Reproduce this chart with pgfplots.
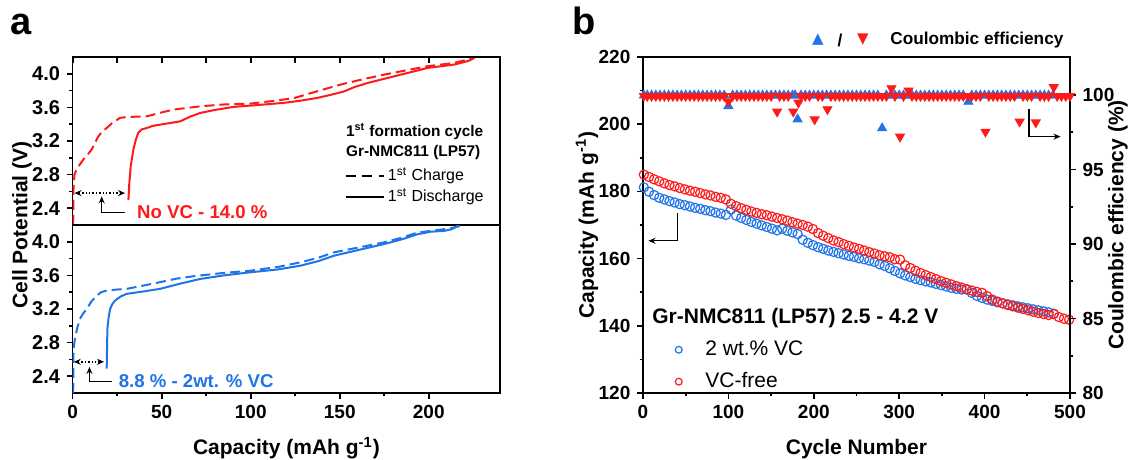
\documentclass[border=0pt]{standalone}
\usepackage{fontspec}
\setmainfont{Liberation Sans}
\newfontfamily\dejavu{DejaVu Sans}
\usepackage{pgfplots}
\pgfplotsset{compat=1.18}
\usetikzlibrary{arrows.meta}
\definecolor{cred}{HTML}{FF1A1A}
\definecolor{cblue}{HTML}{1E74E8}
\newcommand{\lab}{\bfseries\fontsize{10.5}{12}\selectfont}
\pgfplotsset{
  base/.style={scale only axis, axis line style={line width=0.8pt},
    every tick/.style={black,line width=0.8pt},
    major tick length=2.8pt, minor tick length=1.6pt, tick align=outside,
    tick label style={font=\bfseries\fontsize{9.5}{11}\selectfont},
    /pgf/number format/assume math mode=true},
  vfmt/.style={yticklabel style={font=\bfseries\fontsize{10}{11}\selectfont,
    /pgf/number format/.cd,fixed,fixed zerofill,precision=1}},
}
\tikzset{
  tip/.style={line width=0.7pt},
  arr/.style={{Stealth[length=3.5pt,width=3pt]}-{Stealth[length=3.5pt,width=3pt]}},
}
\begin{document}
\begin{tikzpicture}
\path[use as bounding box] (0,0) rectangle (566pt,230pt);

% ---- a, top: no VC
\begin{axis}[base, vfmt, at={(36.35pt,117.5pt)}, anchor=south west,
  width=213.65pt, height=84pt, xmin=0, xmax=240, ymin=2.2, ymax=4.2,
  xtick=\empty, ytick={2.4,2.8,...,4.0}, minor y tick num=1, ytick pos=left]
\addplot[cred, line width=1pt, dash pattern=on 5pt off 2.5pt] coordinates {
 (0.3,2.20) (0.35,2.6) (1.0,2.80) (2.2,2.86) (4,2.92) (6,2.98) (8.5,3.04) (10.7,3.10)
 (12.5,3.18) (14.4,3.255) (16.5,3.31) (19.1,3.355) (22,3.41) (26.6,3.475) (30,3.485)
 (41.7,3.494) (50,3.54) (56.7,3.574) (71.7,3.613) (85,3.635) (99.8,3.645) (112,3.675)
 (124.2,3.71) (137,3.79) (150.5,3.872) (162,3.93) (174.9,3.99) (187,4.04) (199.3,4.09)
 (207,4.11) (214.3,4.13) (220,4.16) (225.6,4.19)};
\addplot[cred, line width=1pt] coordinates {
 (31.3,2.50) (31.8,2.70) (32.6,2.90) (34.1,3.10) (35.5,3.22) (36.9,3.30) (39,3.34)
 (41.7,3.355) (45,3.38) (49.2,3.395) (55,3.415) (60.4,3.434) (66,3.49) (71.7,3.534)
 (80,3.57) (90.4,3.606) (105,3.63) (118.6,3.654) (128,3.68) (137.4,3.713) (145,3.75)
 (152.4,3.79) (158,3.84) (165.5,3.89) (175,3.94) (184.3,3.99) (192,4.03) (199.3,4.07)
 (207,4.09) (214.3,4.11) (220,4.14) (223,4.16) (225.6,4.19)};
\draw[tip, densely dotted, arr] (1,2.58) -- (29.4,2.58);
\draw[tip, -{Stealth[length=3.5pt,width=3pt]}] (29.4,2.352) -- (16.3,2.352) -- (16.3,2.54);
\node[anchor=west, inner sep=0pt, text=cred, font=\bfseries\fontsize{9.3}{11}\selectfont]
  at (36,2.352) {No VC - 14.0 \%};
\node[anchor=west, inner sep=0pt, font=\bfseries\fontsize{7.7}{9}\selectfont]
  at (153.3,3.315) {1\textsuperscript{st} formation cycle};
\node[anchor=west, inner sep=0pt, font=\bfseries\fontsize{7.7}{9}\selectfont]
  at (153.3,3.057) {Gr-NMC811 (LP57)};
\draw[line width=0.8pt, dash pattern=on 5pt off 3.3pt] (153.3,2.786) -- (174.7,2.786);
\node[anchor=west, inner sep=0pt, font=\fontsize{8}{9}\selectfont]
  at (176.8,2.786) {1\textsuperscript{st} Charge};
\draw[line width=0.8pt] (153.3,2.535) -- (174.7,2.535);
\node[anchor=west, inner sep=0pt, font=\fontsize{8}{9}\selectfont]
  at (176.8,2.535) {1\textsuperscript{st} Discharge};
\end{axis}
% top ticks pointing in
\begin{axis}[base, at={(36.35pt,117.5pt)}, anchor=south west,
  width=213.65pt, height=84pt, xmin=0, xmax=240, ymin=2.2, ymax=4.2,
  hide y axis, axis x line*=top, tick align=inside, minor tick length=2.8pt,
  xtick={0,50,...,200}, minor x tick num=1, xticklabels={}]
\end{axis}

% ---- a, bottom: 2 wt.% VC
\begin{axis}[base, vfmt, at={(36.35pt,33.5pt)}, anchor=south west,
  width=213.65pt, height=84pt, xmin=0, xmax=240, ymin=2.2, ymax=4.2,
  xtick={0,50,...,200}, minor x tick num=1, xtick pos=left,
  ytick={2.4,2.8,...,4.0}, minor y tick num=1, ytick pos=left]
\addplot[cblue, line width=1pt, dash pattern=on 5pt off 2.5pt] coordinates {
 (0.3,2.20) (0.35,2.60) (0.6,2.75) (1.3,2.847) (2.5,2.97) (4.1,3.084) (6,3.15) (7.9,3.20)
 (10.5,3.29) (13.5,3.36) (16,3.40) (19.1,3.42) (24,3.43) (30.4,3.44) (40,3.48) (49.2,3.52)
 (58,3.56) (67.9,3.59) (85,3.63) (99.8,3.656) (115,3.70) (128,3.756) (138,3.81)
 (146.7,3.874) (160,3.93) (174.9,3.993) (185,4.05) (193.7,4.11) (205,4.14) (212,4.16)
 (218,4.19)};
\addplot[cblue, line width=1pt] coordinates {
 (19.1,2.49) (19.3,2.75) (19.5,2.97) (20.2,3.10) (21,3.20) (22.3,3.26) (23.8,3.30)
 (27,3.35) (30.4,3.38) (40,3.41) (49.2,3.44) (60,3.50) (71.7,3.558) (85,3.60)
 (99.8,3.637) (115,3.67) (128,3.716) (138,3.77) (146.7,3.834) (160,3.90) (174.9,3.973)
 (185,4.03) (193.7,4.09) (201,4.12) (208.7,4.13) (213,4.15) (216.2,4.19)};
\draw[tip, densely dotted, arr] (0.6,2.571) -- (17.6,2.571);
\draw[tip, -{Stealth[length=3.5pt,width=3pt]}] (22,2.34) -- (9.4,2.34) -- (9.4,2.51);
\node[anchor=west, inner sep=0pt, text=cblue, font=\bfseries\fontsize{9.3}{11}\selectfont]
  at (25.7,2.34) {8.8 \% - 2wt. \% VC};
\end{axis}

% ---- b: capacity
\begin{axis}[base, at={(321.5pt,33.5pt)}, anchor=south west,
  width=213.5pt, height=168pt, xmin=0, xmax=500, ymin=120, ymax=220,
  xtick={0,100,...,500}, minor x tick num=1, xtick pos=left,
  ytick={120,140,...,220}, minor y tick num=1, ytick pos=left,
  legend style={at={(rel axis cs:0.058,0.18)}, anchor=north west, draw=none, fill=none,
    font=\fontsize{10.5}{12}\selectfont, row sep=3pt},
  legend cell align=left,
  legend image code/.code={\path (-2pt,0pt) (11pt,0pt);
    \draw[#1, mark size=1.7pt] plot coordinates {(0pt,0pt)};}]
\addplot[only marks, mark=o, mark size=2.3pt, cblue, line width=0.6pt] coordinates {
 (1,181.2) (7,179.9) (13,178.9) (19,178.1) (25,177.6) (31,177.1) (37,176.7) (43,176.2)
 (49,175.9) (55,175.5) (61,175.1) (67,174.8) (73,174.4) (79,174.1) (85,173.7) (91,173.4)
 (97,173.0) (103,174.6) (109,172.8) (115,172.1) (121,171.5) (127,170.9) (133,170.4)
 (139,169.9) (145,169.4) (151,168.9) (157,168.4) (163,168.9) (169,168.3) (175,167.8)
 (181,167.3) (187,165.6) (193,164.7) (199,164.0) (205,163.4) (211,162.9) (217,162.4)
 (223,162.0) (229,161.6) (235,161.2) (241,160.8) (247,160.5) (253,160.1) (259,159.8)
 (265,159.4) (271,159.0) (277,158.3) (283,157.8) (289,157.1) (295,156.3) (301,155.6)
 (307,155.0) (313,154.5) (319,154.0) (325,153.6) (331,153.2) (337,152.9) (343,152.5)
 (349,152.1) (355,151.7) (361,151.3) (367,151.0) (373,150.8) (379,150.8) (385,149.8)
 (391,148.9) (397,148.3) (403,147.8) (409,147.4) (415,147.0) (421,146.7) (427,146.4)
 (433,146.1) (439,145.8) (445,145.5) (451,145.2) (457,144.9) (463,144.6) (469,144.3)
 (475,144.0) (481,143.6)};
\addlegendentry{2 wt.\% VC}
\addplot[only marks, mark=o, mark size=2.3pt, cred, line width=0.6pt] coordinates {
 (1,185.0) (7,184.3) (13,183.6) (19,183.0) (25,182.4) (31,181.9) (37,181.5) (43,181.0)
 (49,180.6) (55,180.2) (61,179.9) (67,179.5) (73,179.1) (79,178.8) (85,178.4) (91,178.1)
 (97,177.6) (103,176.3) (109,175.6) (115,175.0) (121,174.5) (127,174.0) (133,173.6)
 (139,173.2) (145,172.9) (151,172.5) (157,172.1) (163,171.7) (169,171.3) (175,170.8)
 (181,170.4) (187,170.0) (193,169.5) (199,168.8) (205,167.6) (211,166.8) (217,166.1)
 (223,165.4) (229,164.9) (235,164.3) (241,163.8) (247,163.3) (253,162.9) (259,162.4)
 (265,161.9) (271,161.5) (277,161.0) (283,160.7) (289,160.4) (295,159.8) (301,159.7)
 (307,158.0) (313,157.2) (319,156.4) (325,155.7) (331,155.1) (337,154.5) (343,153.9)
 (349,153.3) (355,152.8) (361,152.3) (367,151.8) (373,151.4) (379,150.9) (385,150.5)
 (391,150.1) (397,149.8) (403,148.8) (409,147.8) (415,147.2) (421,146.7) (427,146.2)
 (433,145.8) (439,145.4) (445,145.0) (451,144.6) (457,144.2) (463,143.8) (469,143.5)
 (475,143.2) (481,143.5) (487,142.6) (493,142.1) (499,141.8)};
\addlegendentry{VC-free}
\draw[tip, -{Stealth[length=3.5pt,width=3pt]}] (40.6,173.6) -- (40.6,165.3) -- (6.4,165.3);
\draw[tip, -{Stealth[length=3.5pt,width=3pt]}] (452,204.4) -- (452,196.3) -- (489,196.3);
\node[anchor=west, inner sep=0pt, font=\lab] at (rel axis cs:0.021,0.223)
  {Gr-NMC811 (LP57) 2.5 - 4.2 V};
\end{axis}

% ---- b: coulombic efficiency
\begin{axis}[base, at={(321.5pt,33.5pt)}, anchor=south west,
  width=213.5pt, height=168pt, xmin=0, xmax=500, ymin=80, ymax=102.55,
  axis x line=none, axis y line*=right,
  ytick={80,85,...,100}, minor y tick num=1]
\addplot[only marks, mark=triangle*, mark size=2.6pt, cblue] coordinates {
 (1,99.97) (5,99.97) (10,99.97) (15,99.97) (20,99.97) (25,99.97) (30,99.97)
 (35,99.97) (40,99.97) (45,99.97) (50,99.97) (55,99.97) (60,99.97) (65,99.97)
 (70,99.97) (75,99.97) (80,99.97) (85,99.97) (90,99.97) (95,99.97) (100,99.26)
 (105,99.97) (110,99.97) (115,99.97) (120,99.97) (125,99.97) (130,99.97)
 (135,99.97) (140,99.97) (145,99.97) (150,99.97) (155,99.97) (160,99.97)
 (165,99.97) (170,99.97) (175,99.97) (178,99.98) (181,98.37) (185,99.97)
 (190,99.97) (195,99.97) (200,99.97) (205,99.97) (210,99.97) (215,99.97)
 (220,99.97) (225,99.97) (230,99.97) (235,99.97) (240,99.97) (245,99.97)
 (250,99.97) (255,99.97) (260,99.97) (265,99.97) (270,99.97) (275,99.97)
 (280,97.77) (285,99.97) (290,99.97) (295,99.97) (300,99.97) (305,99.97)
 (310,99.97) (315,99.97) (320,99.97) (325,99.97) (330,99.97) (335,99.97)
 (340,99.97) (345,99.97) (350,99.97) (355,99.97) (360,99.97) (365,99.97)
 (370,99.97) (375,99.97) (381,99.55) (385,99.97) (390,99.97) (395,99.97)
 (400,99.97) (405,99.97) (410,99.97) (415,99.97) (420,99.97) (425,99.97)
 (430,99.97) (435,99.97) (440,99.97) (445,99.97) (450,99.97) (455,99.97)
 (460,99.97) (465,99.97) (470,99.97) (475,99.97) (480,99.97)};
\addplot[only marks, mark=triangle*, mark size=2.6pt, cred, mark options={rotate=180}] coordinates {
 (1,99.93) (5,99.93) (10,99.93) (15,99.93) (20,99.93) (25,99.93) (30,99.93) (35,99.93)
 (40,99.93) (45,99.93) (50,99.93) (55,99.93) (60,99.93) (65,99.93) (70,99.93) (75,99.93)
 (80,99.93) (85,99.93) (90,99.93) (95,99.93) (100,99.55) (105,99.93) (110,99.93)
 (115,99.93) (120,99.93) (125,99.93) (130,99.93) (135,99.93) (140,99.93) (145,99.93)
 (150,99.93) (157,98.88) (160,99.93) (165,99.93) (170,99.93) (176,98.88) (182,99.48)
 (185,99.93) (190,99.93) (195,99.93) (201,98.36) (205,99.93) (210,99.93) (216,99.04)
 (220,99.93) (225,99.93) (230,99.93) (235,99.93) (240,99.93) (245,99.93) (250,99.93)
 (255,99.93) (260,99.93) (265,99.93) (270,99.93) (275,99.93) (280,99.93) (285,99.93)
 (291,100.45) (295,99.93) (301,97.2) (305,99.93) (311,100.29) (315,99.93) (320,99.93)
 (325,99.93) (330,99.93) (335,99.93) (340,99.93) (345,99.93) (350,99.93) (355,99.93)
 (360,99.93) (365,99.93) (370,99.93) (375,99.93) (380,99.93) (385,99.93) (390,99.93)
 (395,99.93) (401,97.53) (405,99.93) (410,99.93) (415,99.93) (420,99.93) (425,99.93)
 (430,99.93) (435,99.93) (441,98.21) (445,99.93) (450,99.93) (455,99.93) (460,98.16)
 (465,99.93) (470,99.93) (475,99.93) (481,100.52) (485,99.93) (490,99.93) (495,99.93)
 (500,99.93)};
\end{axis}

% labels
\node[rotate=90, font=\lab] at (11pt,117.5pt) {Cell Potential (V)};
\node[anchor=base, font=\lab] at (143.2pt,2.5pt) {Capacity (mAh g\textsuperscript{-1})};
\node[rotate=90, font=\lab] at (293.5pt,117.5pt) {Capacity (mAh g\textsuperscript{-1})};
\node[anchor=base, font=\lab] at (428.25pt,2.5pt) {Cycle Number};
\node[rotate=90, font=\lab] at (559pt,117.5pt) {Coulombic efficiency (\%)};
\node[anchor=base west, inner sep=0pt, font=\bfseries\fontsize{19}{21}\selectfont] at (5pt,212.5pt) {a};
\node[anchor=base west, inner sep=0pt, font=\bfseries\fontsize{19}{21}\selectfont] at (286pt,212.5pt) {b};
\node[text=cblue, font=\dejavu\fontsize{7.5}{8}\selectfont] at (409pt,210pt) {▲};
\node[font=\bfseries\fontsize{8.6}{10}\selectfont] at (420pt,210pt) {/};
\node[text=cred, font=\dejavu\fontsize{7.5}{8}\selectfont] at (431.5pt,210pt) {▼};
\node[anchor=west, inner sep=0pt, font=\bfseries\fontsize{8.6}{10}\selectfont] at (445pt,210pt) {Coulombic efficiency};
\end{tikzpicture}
\end{document}
